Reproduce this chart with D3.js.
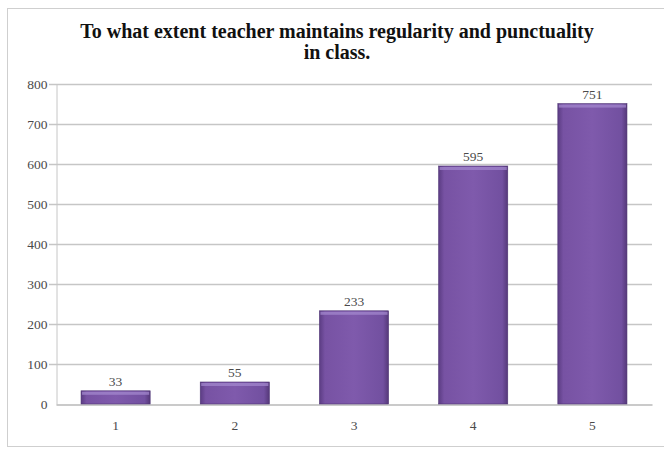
<!DOCTYPE html>
<html lang="en">
<head>
  <meta charset="UTF-8">
  <title>Regularity and punctuality</title>
  <script src="https://d3js.org/d3.v7.min.js"></script>
  <style>
    body { margin: 0; background: #fff; }
    svg { display: block; }
    text { font-family: "Liberation Serif", "DejaVu Serif", serif; }
    .tick text { fill: #4a4a4a; font-size: 13.5px; }
    .label { fill: #4a4a4a; font-size: 13.5px; }
  </style>
</head>
<body>
<svg width="664" height="449"></svg>

<script>
  const categories = ["1", "2", "3", "4", "5"];
  const counts = [33, 55, 233, 595, 751];
  const yTicks = [0, 100, 200, 300, 400, 500, 600, 700, 800];
  const titleLines = ["To what extent teacher maintains regularity and punctuality", "in class."];

  const svg = d3.select("svg");
  const margin = {top: 84, right: 12, bottom: 45, left: 56};
  const width = 664, height = 449;

  // chart frame
  svg.append("rect")
    .attr("x", 7.5).attr("y", 8.5)
    .attr("width", 670).attr("height", 438)
    .attr("fill", "#fff")
    .attr("stroke", "#cfcfcf");

  // bar gradient
  const defs = svg.append("defs");
  const grad = defs.append("linearGradient").attr("id", "barGrad")
    .attr("x1", "0%").attr("x2", "100%").attr("y1", "0%").attr("y2", "0%");
  grad.append("stop").attr("offset", "0%").attr("stop-color", "#5b3c83");
  grad.append("stop").attr("offset", "8%").attr("stop-color", "#7752a3");
  grad.append("stop").attr("offset", "50%").attr("stop-color", "#7f5aac");
  grad.append("stop").attr("offset", "92%").attr("stop-color", "#7250a0");
  grad.append("stop").attr("offset", "100%").attr("stop-color", "#553879");

  const x = d3.scaleBand()
    .domain(categories)
    .range([margin.left, width - margin.right])
    .paddingInner(0.42)
    .paddingOuter(0.21);

  const y = d3.scaleLinear()
    .domain([0, 800])
    .range([height - margin.bottom, margin.top]);

  // gridlines
  svg.append("g")
    .selectAll("line")
    .data(yTicks.filter(d => d > 0))
    .join("line")
    .attr("x1", margin.left - 7).attr("x2", width - margin.right)
    .attr("y1", d => Math.round(y(d)) + 0.5).attr("y2", d => Math.round(y(d)) + 0.5)
    .attr("stroke", "#c6c6c6")
    .attr("stroke-width", 1.3);

  // y axis
  const yAxis = svg.append("g")
    .attr("transform", `translate(${margin.left + 0.5},0)`)
    .call(d3.axisLeft(y).tickValues(yTicks).tickSize(0).tickPadding(9));
  yAxis.select(".domain").attr("stroke", "#c6c6c6");

  // x axis
  const xAxis = svg.append("g")
    .attr("transform", `translate(0,${Math.round(y(0)) + 0.5})`)
    .call(d3.axisBottom(x).tickSize(0).tickPadding(16));
  xAxis.select(".domain").attr("stroke", "#b8b8b8").attr("stroke-width", 1.3);

  // bars
  const bars = svg.append("g")
    .selectAll("g")
    .data(categories.map((c, i) => ({c, v: counts[i]})))
    .join("g");

  bars.append("rect")
    .attr("x", d => x(d.c))
    .attr("y", d => y(d.v))
    .attr("width", x.bandwidth())
    .attr("height", d => y(0) - y(d.v))
    .attr("fill", "url(#barGrad)")
    .attr("stroke", "#4e3474")
    .attr("stroke-width", 0.6);

  bars.append("rect")
    .attr("x", d => x(d.c) + 1)
    .attr("y", d => y(d.v) + 1)
    .attr("width", x.bandwidth() - 2)
    .attr("height", 3)
    .attr("fill", "#a58ad0")
    .attr("opacity", 0.7);

  bars.append("text")
    .attr("class", "label")
    .attr("x", d => x(d.c) + x.bandwidth() / 2)
    .attr("y", d => y(d.v) - 5)
    .attr("text-anchor", "middle")
    .text(d => d.v);

  // title
  svg.append("text")
    .attr("x", 337).attr("y", 38)
    .attr("text-anchor", "middle")
    .attr("font-size", "20px")
    .attr("font-weight", "bold")
    .attr("fill", "#111")
    .selectAll("tspan")
    .data(titleLines)
    .join("tspan")
    .attr("x", 337)
    .attr("dy", (d, i) => i === 0 ? 0 : 21)
    .text(d => d);
</script>
</body>
</html>
